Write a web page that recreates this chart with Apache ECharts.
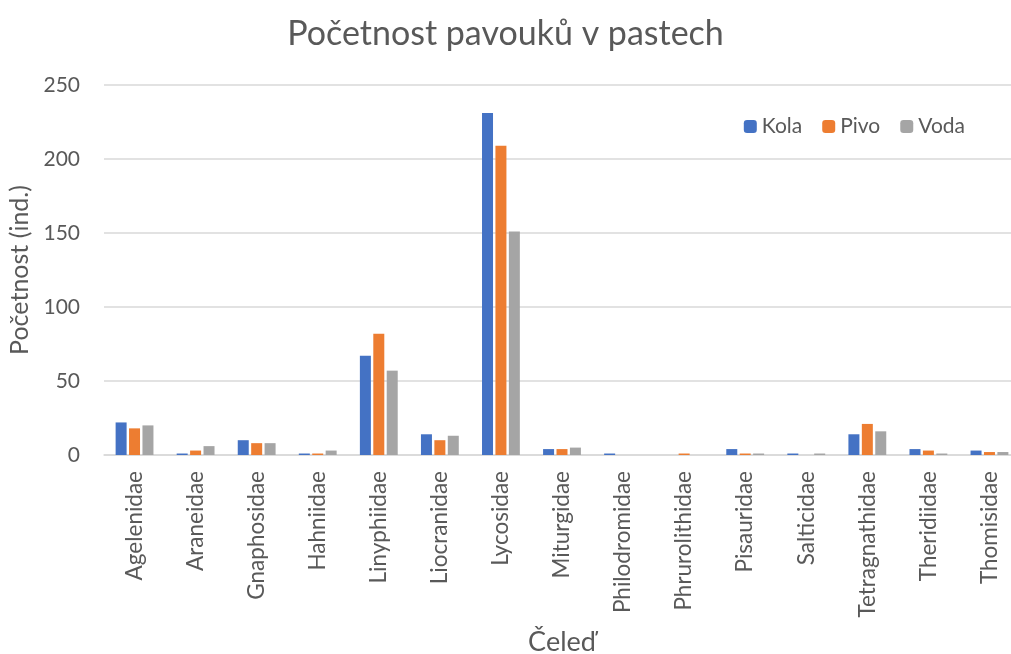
<!DOCTYPE html>
<html>
<head>
<meta charset="utf-8">
<script src="https://cdn.jsdelivr.net/npm/echarts@6/dist/echarts.min.js"></script>
<style>
html, body { margin: 0; padding: 0; background: #fff; }
#chart { width: 1011px; height: 654px; }
</style>
</head>
<body>
<div id="chart"></div>
<script>
// data
const families = ['Agelenidae', 'Araneidae', 'Gnaphosidae', 'Hahniidae', 'Linyphiidae', 'Liocranidae', 'Lycosidae', 'Miturgidae', 'Philodromidae', 'Phrurolithidae', 'Pisauridae', 'Salticidae', 'Tetragnathidae', 'Theridiidae', 'Thomisidae']
const kola = [22, 1, 10, 1, 67, 14, 231, 4, 1, 0, 4, 1, 14, 4, 3]
const pivo = [18, 3, 8, 1, 82, 10, 209, 4, 0, 1, 1, 0, 21, 3, 2]
const voda = [20, 6, 8, 3, 57, 13, 151, 5, 0, 0, 1, 1, 16, 1, 2]
const yTicks = [0, 50, 100, 150, 200, 250]

const font = 'Lato, "Open Sans", sans-serif'
const textColor = '#595959'
const lineColor = '#d9d9d9'

let myChart = echarts.init(document.getElementById('chart'))
let option = {
    animation: false,
    textStyle: { fontFamily: font },
    title: {
        text: 'Početnost pavouků v pastech',
        left: 'center',
        top: 12,
        textStyle: { fontFamily: font, fontSize: 34, fontWeight: 'normal', color: textColor }
    },
    legend: {
        right: 41,
        top: 111,
        itemWidth: 13,
        itemHeight: 13,
        itemGap: 20,
        textStyle: { fontFamily: font, fontSize: 21, color: textColor },
        data: ['Kola', 'Pivo', 'Voda']
    },
    grid: {
        left: 104,
        top: 85,
        width: 916,
        bottom: 199,
        outerBoundsMode: 'none',
        containLabel: false
    },
    xAxis: {
        type: 'category',
        data: families,
        name: 'Čeleď',
        nameLocation: 'middle',
        nameGap: 174,
        nameTextStyle: { fontFamily: font, fontSize: 27, color: textColor },
        axisTick: { show: false },
        axisLine: { lineStyle: { color: lineColor, width: 1.5 } },
        axisLabel: {
            rotate: 90,
            interval: 0,
            margin: 16,
            fontFamily: font,
            fontSize: 22.5,
            color: textColor
        }
    },
    yAxis: {
        type: 'value',
        min: yTicks[0],
        max: yTicks[yTicks.length - 1],
        interval: 50,
        name: 'Početnost (ind.)',
        nameLocation: 'middle',
        nameGap: 67,
        nameTextStyle: { fontFamily: font, fontSize: 25, color: textColor },
        axisLine: { show: false },
        axisTick: { show: false },
        splitLine: { lineStyle: { color: lineColor, width: 1.5 } },
        axisLabel: { margin: 24, fontFamily: font, fontSize: 21, color: textColor }
    },
    series: [
        { name: 'Kola', type: 'bar', data: kola, barWidth: 11, barGap: '22%', itemStyle: { color: '#4472C4' } },
        { name: 'Pivo', type: 'bar', data: pivo, barWidth: 11, barGap: '22%', itemStyle: { color: '#ED7D31' } },
        { name: 'Voda', type: 'bar', data: voda, barWidth: 11, barGap: '22%', itemStyle: { color: '#A5A5A5' } }
    ]
}
myChart.setOption(option)
</script>
</body>
</html>
